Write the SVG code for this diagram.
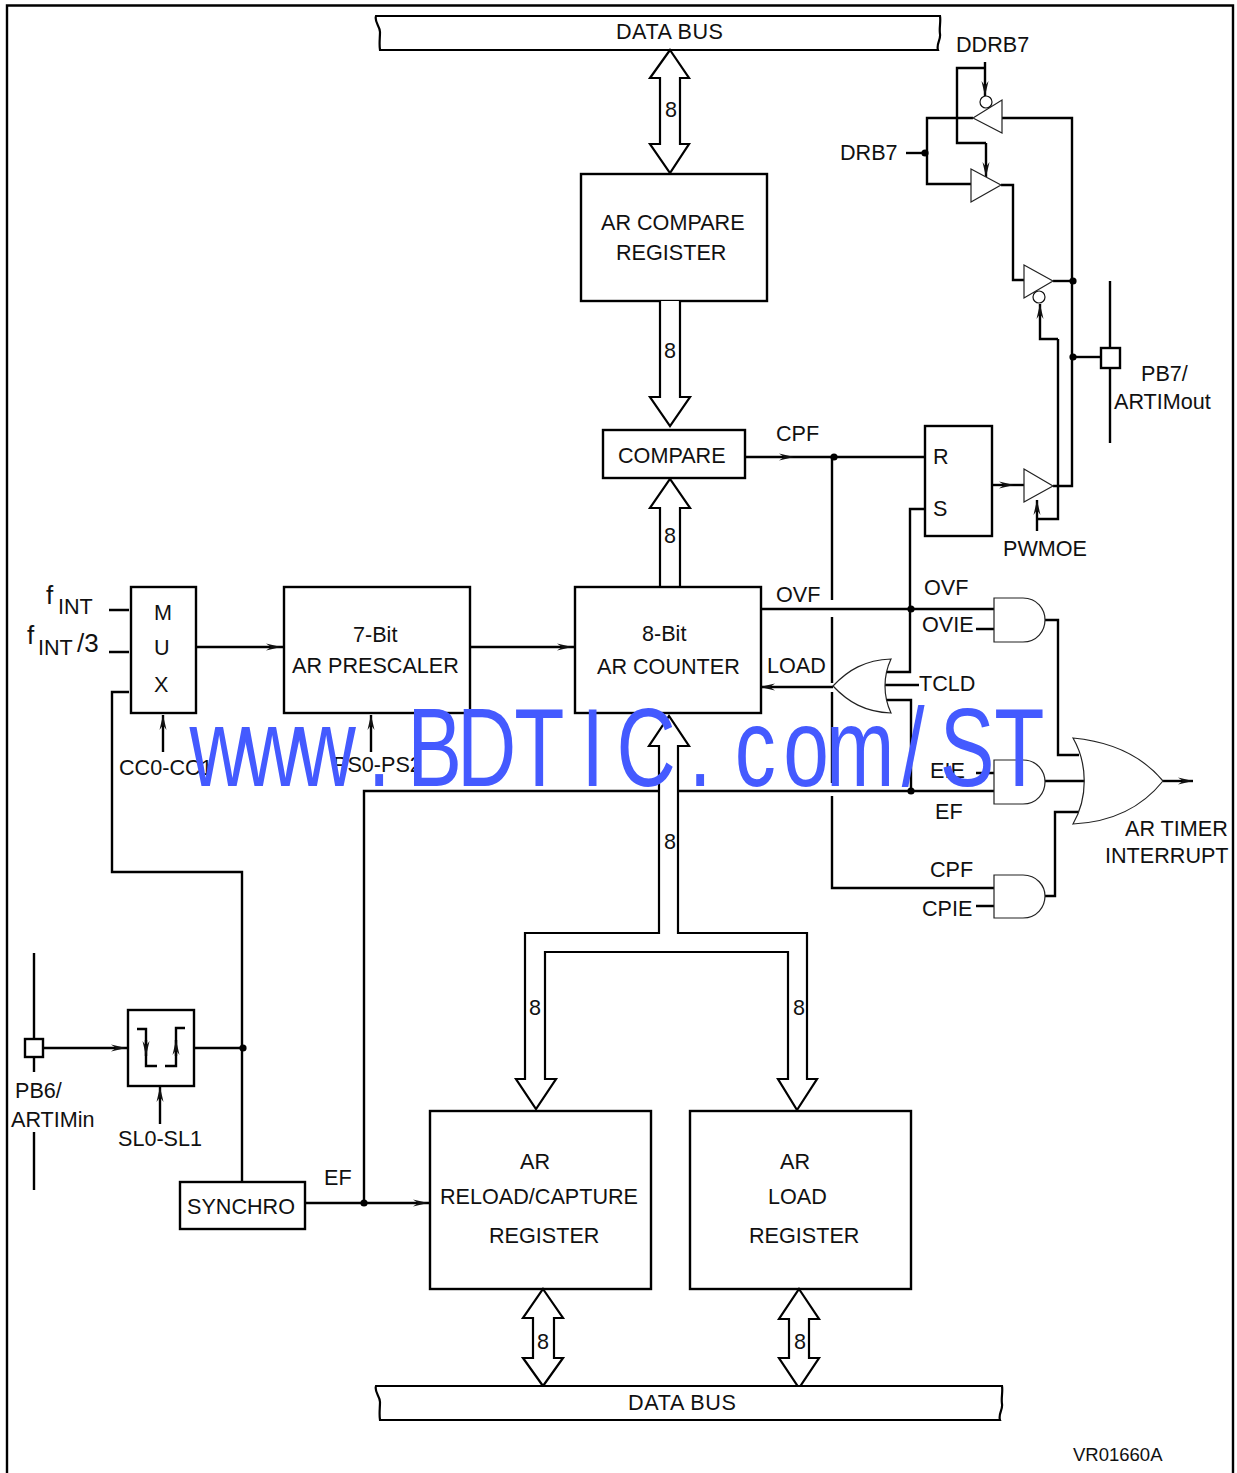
<svg xmlns="http://www.w3.org/2000/svg" width="1237" height="1473" viewBox="0 0 1237 1473">
<style>
text{font-family:"Liberation Sans",Arial,sans-serif;font-size:21.6px;fill:#111}
.m{text-anchor:middle}
.s{font-size:18.5px}
.f{font-size:26px}
.box{fill:#fff;stroke:#000;stroke-width:2.4}
.w,.c path{fill:none;stroke:#000;stroke-width:2.4}
.g{fill:#fff;stroke:#222;stroke-width:1.2}
.bus{fill:#fff;stroke:#000;stroke-width:2.2;stroke-linejoin:miter}
.bub{fill:#fff;stroke:#111;stroke-width:1.2}
.wm{font-size:111px;fill:#445aff;font-kerning:none}
</style>
<defs>
<marker id="a" markerUnits="userSpaceOnUse" markerWidth="16" markerHeight="10" refX="15" refY="5" orient="auto" overflow="visible"><path d="M0,1.500 L15,5 L0,8.500 L5,5 Z" fill="#111"/></marker>
</defs>
<rect width="1237" height="1473" fill="#fff"/>
<path class="w" d="M7,1473 V5.500 H1233 V1473"/>

<g id="connectors" class="c">
<path d="M109,610 H129 M109,652 H129"/>
<path d="M129,692 H112 V872 H242 V1182"/>
<path marker-mid="url(#a)" d="M196,647 L281,647 L284,647"/>
<path marker-mid="url(#a)" d="M470,647 L572,647 L575,647"/>
<path marker-end="url(#a)" d="M163,752 V715"/>
<path marker-end="url(#a)" d="M371,752 V715"/>
<path marker-mid="url(#a)" d="M745,457 L794,457 L925,457"/>
<path d="M832,457 V600 M832,617 V683 M832,692 V783 M832,796 V888 H994"/>
<circle cx="834" cy="457" r="3.600" fill="#000" stroke="none"/>
<path d="M761,609 H994"/>
<circle cx="911" cy="609" r="3.600" fill="#000" stroke="none"/>
<path d="M885,672 H910 V509 H925"/>
<path d="M885,700 H911 V791"/>
<circle cx="911" cy="791" r="3.600" fill="#000" stroke="none"/>
<path d="M884,685 H919"/>
<path marker-end="url(#a)" d="M833,687 H760"/>
<path d="M976,629 H994 M976,773 H994 M976,906 H994"/>
<path d="M364,1203 V791 H659 M678,791 H994"/>
<path d="M1045,620 H1058 V755 H1079"/>
<path d="M1045,781 H1085"/>
<path d="M1045,896 H1055 V812 H1079"/>
<path marker-end="url(#a)" d="M1163,781 H1193"/>
<path marker-mid="url(#a)" d="M992,485 L1014,485 L1024,485"/>
<path d="M1053,486 H1072 V118 H1000"/>
<path d="M1058,339 V519 H1037"/>
<path marker-end="url(#a)" d="M1037,531 V500"/>
<path marker-end="url(#a)" d="M1058,339 H1040 V304"/>
<path marker-end="url(#a)" d="M985,62 V96"/>
<path d="M985,68 H957 V143 H986"/>
<path marker-end="url(#a)" d="M986,143 V177"/>
<path d="M973,118 H927 V184 H971"/>
<path d="M906,153 H927"/>
<circle cx="925" cy="153" r="3.600" fill="#000" stroke="none"/>
<path d="M1001,185 H1013 V280 H1024"/>
<path d="M1053,281 H1072"/>
<circle cx="1073" cy="281" r="3.600" fill="#000" stroke="none"/>
<path d="M1072,357 H1101"/>
<circle cx="1073" cy="357" r="3.600" fill="#000" stroke="none"/>
<path d="M1110,281 V443"/>
<path d="M34,953 V1039 M34,1057 V1072 M34,1132 V1190"/>
<path marker-mid="url(#a)" d="M43,1048 L126,1048 L128,1048"/>
<path d="M194,1048 H242"/>
<circle cx="243" cy="1048" r="3.600" fill="#000" stroke="none"/>
<path marker-end="url(#a)" d="M160,1124 V1087"/>
<path marker-mid="url(#a)" d="M305,1203 L428,1203 L430,1203"/>
<circle cx="364" cy="1203" r="3.600" fill="#000" stroke="none"/>
</g>

<g id="data-bus-top"><path class="bus" d="M380,50 H938 C936,44 941,40 940,34 C939,28 941,22 940,16 H376 C374,22 380,26 380,32 C380,38 379,44 380,50 Z"/><text x="616" y="39" textLength="107">DATA BUS</text></g>
<g id="bus-top"><path class="bus" d="M670,50 L689,78 H680 V144 H689 L670,173 L650,144 H660 V78 H650 Z"/><text class="m" x="671" y="117">8</text></g>
<g id="ar-compare-register"><rect class="box" x="581" y="174" width="186" height="127"/><text x="601" y="230">AR COMPARE</text><text x="616" y="260">REGISTER</text></g>
<g id="bus-compare"><path class="bus" d="M660,301 V397 H650 L670,426 L690,397 H680 V301"/><text class="m" x="670" y="358">8</text></g>
<g id="compare"><rect class="box" x="603" y="430" width="142" height="48"/><text x="618" y="463">COMPARE</text><text x="776" y="441">CPF</text></g>
<g id="bus-counter"><path class="bus" d="M660,587 V508 H650 L670,479 L690,508 H680 V587"/><text class="m" x="670" y="543">8</text></g>
<g id="counter"><rect class="box" x="575" y="587" width="186" height="126"/><text x="642" y="641">8-Bit</text><text x="597" y="674">AR COUNTER</text><text x="776" y="602">OVF</text><text x="767" y="673">LOAD</text></g>
<g id="prescaler"><rect class="box" x="284" y="587" width="186" height="126"/><text x="353" y="642">7-Bit</text><text x="292" y="673">AR PRESCALER</text><text x="333" y="772">PS0-PS2</text></g>
<g id="mux"><rect class="box" x="131" y="587" width="65" height="126"/><text x="154" y="620">M</text><text x="154" y="655">U</text><text x="154" y="692">X</text><text x="119" y="775">CC0-CC1</text>
<text class="f" x="46" y="604">f</text><text x="58" y="614">INT</text><text class="f" x="27" y="644">f</text><text x="38" y="655">INT</text><text class="f" x="77" y="652">/3</text></g>
<g id="rs-latch"><rect class="box" x="925" y="426" width="67" height="110"/><text x="933" y="464">R</text><text x="933" y="516">S</text></g>
<g id="buf-ddr"><path class="g" d="M973,118 L1002,100 V133 Z"/><circle class="bub" cx="986" cy="102" r="6"/><text x="956" y="52">DDRB7</text></g>
<g id="buf-dr"><path class="g" d="M971,169 L1001,185 L971,202 Z"/><text x="840" y="160">DRB7</text></g>
<g id="buf-3"><path class="g" d="M1024,265 L1053,281 L1024,298 Z"/><circle class="bub" cx="1039" cy="297" r="6"/></g>
<g id="buf-pwm"><path class="g" d="M1024,469 L1053,486 L1024,502 Z"/><text x="1003" y="556">PWMOE</text></g>
<g id="pb7"><rect class="box" x="1101" y="348" width="19" height="20"/><text x="1141" y="381">PB7/</text><text x="1114" y="409">ARTIMout</text></g>
<g id="or-load"><path class="g" d="M833,686 C848,670 865,660 891,659 C883,676 883,696 891,713 C865,712 848,702 833,686 Z"/><text x="919" y="691">TCLD</text></g>
<g id="and-ovf"><path class="g" d="M994,598 H1023 C1037,598 1045,609 1045,620 C1045,631 1037,642 1023,642 H994 Z"/><text x="924" y="595">OVF</text><text x="922" y="632">OVIE</text></g>
<g id="and-ef"><path class="g" d="M994,760 H1023 C1037,760 1045,771 1045,782 C1045,793 1037,804 1023,804 H994 Z"/><text x="930" y="778">EIE</text><text x="935" y="819">EF</text></g>
<g id="and-cpf"><path class="g" d="M994,875 H1023 C1037,875 1045,886 1045,896 C1045,907 1037,918 1023,918 H994 Z"/><text x="930" y="877">CPF</text><text x="922" y="916">CPIE</text></g>
<g id="or-int"><path class="g" d="M1073,738 C1115,742 1143,757 1163,781 C1143,806 1115,822 1073,824 C1088,798 1088,764 1073,738 Z"/><text x="1125" y="836">AR TIMER</text><text x="1105" y="863">INTERRUPT</text></g>
<g id="bus-regs"><path class="bus" d="M659,933 H525 V1079 H516 L536,1109 L556,1079 H545 V952 H788 V1079 H778 L797,1110 L817,1079 H807 V933 H678 V746 H689 L669,716 L649,746 H659 Z"/><text class="m" x="670" y="849">8</text><text class="m" x="535" y="1015">8</text><text class="m" x="799" y="1015">8</text></g>
<g id="pb6"><rect class="box" x="25" y="1039" width="18" height="18"/><text x="15" y="1098">PB6/</text><text x="11" y="1127">ARTIMin</text></g>
<g id="edge"><rect class="box" x="128" y="1010" width="66" height="76"/>
<path class="w" d="M137,1029 H146 V1066 H157"/><path class="w" marker-end="url(#a)" d="M146,1040 V1056"/>
<path class="w" d="M165,1066 H176 V1028 H185"/><path class="w" marker-end="url(#a)" d="M176,1056 V1040"/>
<text x="118" y="1146">SL0-SL1</text></g>
<g id="synchro"><rect class="box" x="180" y="1182" width="125" height="47"/><text x="187" y="1214">SYNCHRO</text><text x="324" y="1185">EF</text></g>
<g id="reload"><rect class="box" x="430" y="1111" width="221" height="178"/><text x="520" y="1169">AR</text><text x="440" y="1204">RELOAD/CAPTURE</text><text x="489" y="1243">REGISTER</text></g>
<g id="load"><rect class="box" x="690" y="1111" width="221" height="178"/><text x="780" y="1169">AR</text><text x="768" y="1204">LOAD</text><text x="749" y="1243">REGISTER</text></g>
<g id="bus-reload"><path class="bus" d="M543,1289 L563,1318 H554 V1358 H563 L543,1386 L523,1358 H533 V1318 H523 Z"/><text class="m" x="543" y="1349">8</text></g>
<g id="bus-load"><path class="bus" d="M799,1289 L819,1319 H809 V1358 H819 L799,1388 L779,1358 H789 V1319 H779 Z"/><text class="m" x="800" y="1349">8</text></g>
<g id="data-bus-bottom"><path class="bus" d="M380,1420 H1000 C998,1414 1003,1410 1002,1404 C1001,1398 1003,1392 1002,1386 H376 C374,1392 380,1396 380,1402 C380,1408 379,1414 380,1420 Z"/><text x="628" y="1410" textLength="108">DATA BUS</text></g>
<text class="s" x="1073" y="1461">VR01660A</text>
<text class="wm" transform="scale(0.74,1)" y="786" x="256.2 327.8 400.8 496.9 550.4 617.7 694.9 785.4 833.2 930.7 992.8 1058.6 1116.2 1218.5 1270.1 1343.5">www.BDTIC.com/ST</text>
</svg>
